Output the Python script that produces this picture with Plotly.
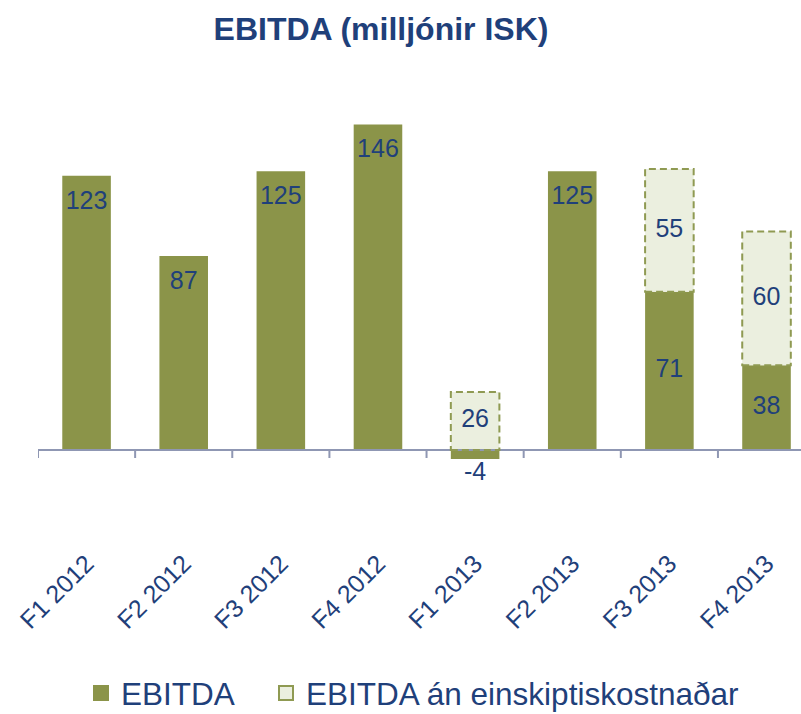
import plotly.graph_objects as go

# ---- data ----
quarters = ["F1 2012", "F2 2012", "F3 2012", "F4 2012",
            "F1 2013", "F2 2013", "F3 2013", "F4 2013"]
ebitda = [123, 87, 125, 146, -4, 125, 71, 38]
one_off = [None, None, None, None, 26, None, 55, 60]   # EBITDA án einskiptiskostnaðar (addition)

title_text = "EBITDA (milljónir ISK)"
name_ebitda = "EBITDA"
name_oneoff = "EBITDA án einskiptiskostnaðar"

# ---- style ----
FONT = "Liberation Sans, Arial, sans-serif"
OLIVE = "#8B9449"
LIGHT = "#EBEFDF"
DASHC = "#8F9A52"
BLUE = "#1F407A"
AXIS = "#8F97B3"
BARW = 0.5
y_range = [-13.45, 170.4]
M_T, M_B = 70, 234

idx = list(range(len(quarters)))
bases = [max(e, 0) for e in ebitda]

fig = go.Figure()

fig.add_trace(go.Bar(x=idx, y=ebitda, width=BARW, marker=dict(color=OLIVE, line=dict(width=0)),
                     showlegend=False, hoverinfo="skip"))
fig.add_trace(go.Bar(x=idx, y=one_off, base=bases, width=BARW,
                     marker=dict(color=LIGHT, line=dict(width=0)),
                     showlegend=False, hoverinfo="skip"))

# dashed outlines of the one-off bars
for i, o in enumerate(one_off):
    if o is None:
        continue
    fig.add_shape(type="rect", xref="x", yref="y",
                  x0=i - BARW / 2, x1=i + BARW / 2, y0=bases[i], y1=bases[i] + o,
                  line=dict(color=DASHC, width=2, dash="7px,4px"),
                  fillcolor="rgba(0,0,0,0)", layer="above")

# labels
lab_x, lab_y, lab_t = [], [], []
for i, (e, o) in enumerate(zip(ebitda, one_off)):
    if e < 0:
        ly = e - 6.5
    elif o is not None:
        ly = e / 2
    else:
        ly = e - 12
    lab_x.append(i); lab_y.append(ly); lab_t.append(str(e))
    if o is not None:
        lab_x.append(i); lab_y.append(bases[i] + o / 2); lab_t.append(str(o))

fig.add_trace(go.Scatter(x=lab_x, y=lab_y, text=lab_t, mode="text",
                         textfont=dict(family=FONT, size=25, color=BLUE),
                         cliponaxis=False, showlegend=False, hoverinfo="skip"))

# legend entries
fig.add_trace(go.Scatter(x=[None], y=[None], mode="markers", name=name_ebitda,
                         legendwidth=140,
                         marker=dict(symbol="square", size=16, color=OLIVE)))
fig.add_trace(go.Scatter(x=[None], y=[None], mode="markers", name=name_oneoff,
                         marker=dict(symbol="square", size=14, color=LIGHT,
                                     line=dict(color=DASHC, width=2))))

axis_pos = (0 - y_range[0]) / (y_range[1] - y_range[0])
px_per_unit = (714 - M_T - M_B) / (y_range[1] - y_range[0])

fig.update_layout(
    width=801, height=714,
    margin=dict(l=38, r=0, t=M_T, b=M_B, autoexpand=False),
    paper_bgcolor="white", plot_bgcolor="white",
    barmode="overlay",
    font=dict(family=FONT, color=BLUE),
    title=dict(text="<b>" + title_text + "</b>", x=381 / 801, xanchor="center",
               xref="container", y=1 - 29 / 714, yanchor="middle", yref="container",
               font=dict(family=FONT, size=32, color=BLUE)),
    xaxis=dict(
        type="linear",
        range=[-0.5, 7.355],
        tickmode="array", tickvals=idx, ticktext=quarters,
        tickangle=-45,
        tickfont=dict(family=FONT, size=25, color=BLUE),
        showgrid=False, zeroline=False,
        showline=True, linecolor=AXIS, linewidth=2,
        ticks="", anchor="free", position=axis_pos,
        ticklabelstandoff=88,
    ),
    yaxis=dict(range=y_range, visible=False, showgrid=False, zeroline=False),
    legend=dict(orientation="h", xref="container", yref="container",
                x=81 / 801, xanchor="left", y=1 - 693 / 714, yanchor="middle",
                font=dict(family=FONT, size=31.5, color=BLUE),
                bgcolor="rgba(0,0,0,0)"),
)

# boundary ticks (between categories)
for b in [i - 0.5 for i in range(len(quarters) + 1)]:
    fig.add_shape(type="line", xref="x", yref="y", x0=b, x1=b,
                  y0=0, y1=-8 / px_per_unit,
                  line=dict(color=AXIS, width=2), layer="above")

fig.write_html("out.html", config={"displayModeBar": False},
               post_script="document.body.style.margin='0';document.body.style.overflow='hidden';")
